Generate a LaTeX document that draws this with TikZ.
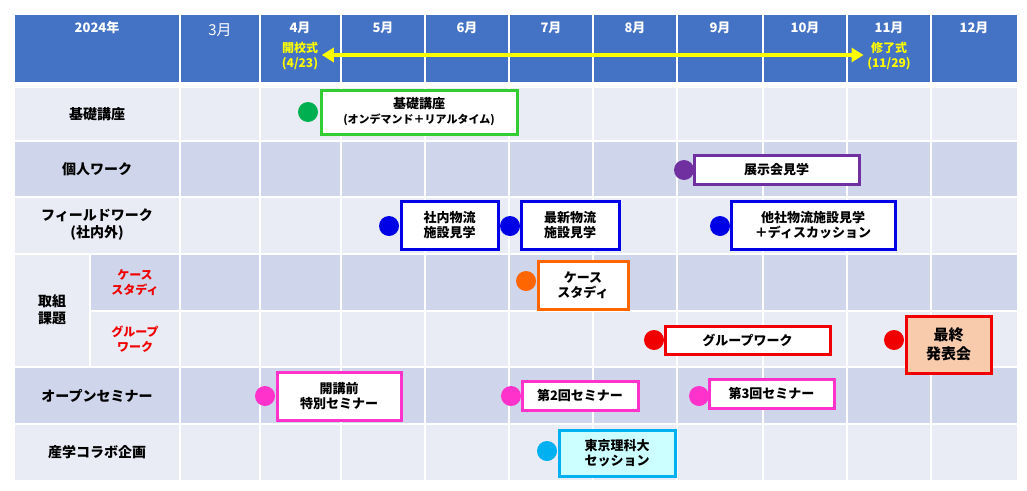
\documentclass[tikz,border=0pt]{standalone}
\usepackage{fontspec}
\setmainfont{Noto Sans CJK JP}
\usetikzlibrary{arrows.meta}
\definecolor{hdrblue}{RGB}{68,114,196}
\definecolor{rowlight}{RGB}{233,235,245}
\definecolor{rowdark}{RGB}{207,213,234}
\definecolor{kgreen}{RGB}{51,204,51}
\definecolor{dgreen}{RGB}{0,176,80}
\definecolor{kpurple}{RGB}{112,48,160}
\definecolor{kblue}{RGB}{0,0,230}
\definecolor{korange}{RGB}{255,102,0}
\definecolor{kred}{RGB}{240,0,0}
\definecolor{kpink}{RGB}{255,51,204}
\definecolor{kcyan}{RGB}{0,176,240}
\definecolor{kyellow}{RGB}{255,255,0}
\tikzset{every picture/.style={line width=0.75pt}}
\tikzset{
  cell/.style={draw=white,line width=2pt},
  evbox/.style={draw=#1,line width=3pt,fill=white,inner sep=0pt,align=center,font=\bfseries\fontsize{13}{15}\selectfont},
  dot/.style={circle,fill=#1,minimum size=20pt,inner sep=0pt},
  lbl/.style={font=\bfseries\fontsize{14}{17}\selectfont,align=center},
  hdr/.style={font=\bfseries\fontsize{13}{15}\selectfont,text=white}
}
\begin{document}
\begin{tikzpicture}[x=1pt,y=-1pt]
\useasboundingbox (0,0) rectangle (1027,490);
\fill[white] (0,0) rectangle (1027,490);
%header
\foreach \xa/\xb in {14/180,180/260,260/341,341/425,425/509,509/593,593/677,677/763,763/847,847/931,931/1018}
  \filldraw[cell,fill=hdrblue] (\xa,14) rectangle (\xb,83);
%rows
\foreach \ya/\yb/\col in {87/141/rowlight,141/197/rowdark,197/254/rowlight,254/311/rowdark,311/367/rowlight,367/424/rowdark,424/481/rowlight}{
  \foreach \xa/\xb in {180/260,260/341,341/425,425/509,509/593,593/677,677/763,763/847,847/931,931/1018}
    \filldraw[cell,fill=\col] (\xa,\ya) rectangle (\xb,\yb);
}
\filldraw[cell,fill=rowlight] (14,87) rectangle (180,141);
\filldraw[cell,fill=rowdark] (14,141) rectangle (180,197);
\filldraw[cell,fill=rowlight] (14,197) rectangle (180,254);
\filldraw[cell,fill=rowlight] (14,254) rectangle (90,367);
\filldraw[cell,fill=rowdark] (90,254) rectangle (180,311);
\filldraw[cell,fill=rowlight] (90,311) rectangle (180,367);
\filldraw[cell,fill=rowdark] (14,367) rectangle (180,424);
\filldraw[cell,fill=rowlight] (14,424) rectangle (180,481);
%header texts
\node[hdr] (hyear) at (97,28) {2024年};
\node[font=\fontsize{15}{17}\selectfont,text=white] (hmar) at (220,30) {3月};
\foreach \m/\x in {4/300,5/383,6/467,7/551,8/635,9/720,10/805,11/889,12/974}
  \node[hdr] (h\m) at (\x,28) {\m 月};
\node[font=\bfseries\fontsize{12}{15}\selectfont,text=kyellow,align=center] (open) at (300,56) {開校式\\(4/23)};
\node[font=\bfseries\fontsize{12}{15}\selectfont,text=kyellow,align=center] (close) at (889,56) {修了式\\(11/29)};
\draw[kyellow,line width=4pt,{Triangle[length=12pt,width=14pt]}-{Triangle[length=12pt,width=14pt]}] (open.east|-0,55) -- (close.west|-0,55);
%row labels
\node[lbl] (r1) at (97,114) {基礎講座};
\node[lbl] (r2) at (97,169) {個人ワーク};
\node[lbl] (r3) at (97,225) {フィールドワーク\\(社内外)};
\node[lbl] (r4) at (52,310) {取組\\課題};
\node[lbl,text=kred,font=\bfseries\fontsize{12}{15}\selectfont] (r4a) at (135,283) {ケース\\スタディ};
\node[lbl,text=kred,font=\bfseries\fontsize{12}{15}\selectfont] (r4b) at (135,339) {グループ\\ワーク};
\node[lbl] (r5) at (97,396) {オープンセミナー};
\node[lbl] (r6) at (97,452) {産学コラボ企画};
%events
\node[evbox=kgreen,minimum width=196pt,minimum height=44pt] (kiso) at (419,112) {基礎講座\\{\fontsize{11}{13}\selectfont (オンデマンド＋リアルタイム)}};
\node[dot=dgreen] (d1) at (308,112) {};
\node[evbox=kpurple,minimum width=165pt,minimum height=29pt] (tenji) at (776.5,169.5) {展示会見学};
\node[dot=kpurple] (d2) at (684,170) {};
\node[evbox=kblue,minimum width=97pt,minimum height=48pt] (fw1) at (449.5,225) {社内物流\\施設見学};
\node[dot=kblue] (d3) at (389,226) {};
\node[evbox=kblue,minimum width=98pt,minimum height=48pt] (fw2) at (570,225) {最新物流\\施設見学};
\node[dot=kblue] (d4) at (510,226) {};
\node[evbox=kblue,minimum width=164pt,minimum height=48pt] (fw3) at (813,225) {他社物流施設見学\\＋ディスカッション};
\node[dot=kblue] (d5) at (720,226) {};
\node[evbox=korange,minimum width=90pt,minimum height=48pt] (case) at (583,285) {ケース\\スタディ};
\node[dot=korange] (d6) at (526,281) {};
\node[evbox=kred,minimum width=165pt,minimum height=28pt] (gw) at (747.5,340) {グループワーク};
\node[dot=kred] (d7) at (654,340) {};
\node[evbox=kred,fill={rgb,255:red,248;green,203;blue,173},minimum width=85pt,minimum height=57pt,font=\bfseries\fontsize{15}{19}\selectfont] (final) at (948.5,344.5) {最終\\発表会};
\node[dot=kred] (d8) at (894,340) {};
\node[evbox=kpink,minimum width=124pt,minimum height=48pt] (sem1) at (339,396) {開講前\\特別セミナー};
\node[dot=kpink] (d9) at (265,396) {};
\node[evbox=kpink,minimum width=116pt,minimum height=29pt] (sem2) at (580,395.5) {第2回セミナー};
\node[dot=kpink] (d10) at (511,396) {};
\node[evbox=kpink,minimum width=125pt,minimum height=29pt] (sem3) at (771.5,393.5) {第3回セミナー};
\node[dot=kpink] (d11) at (699,396) {};
\node[evbox=kcyan,fill={rgb,255:red,204;green,255;blue,255},minimum width=116pt,minimum height=46pt] (tus) at (617,453) {東京理科大\\セッション};
\node[dot=kcyan] (d12) at (547,451) {};
\end{tikzpicture}
\end{document}
